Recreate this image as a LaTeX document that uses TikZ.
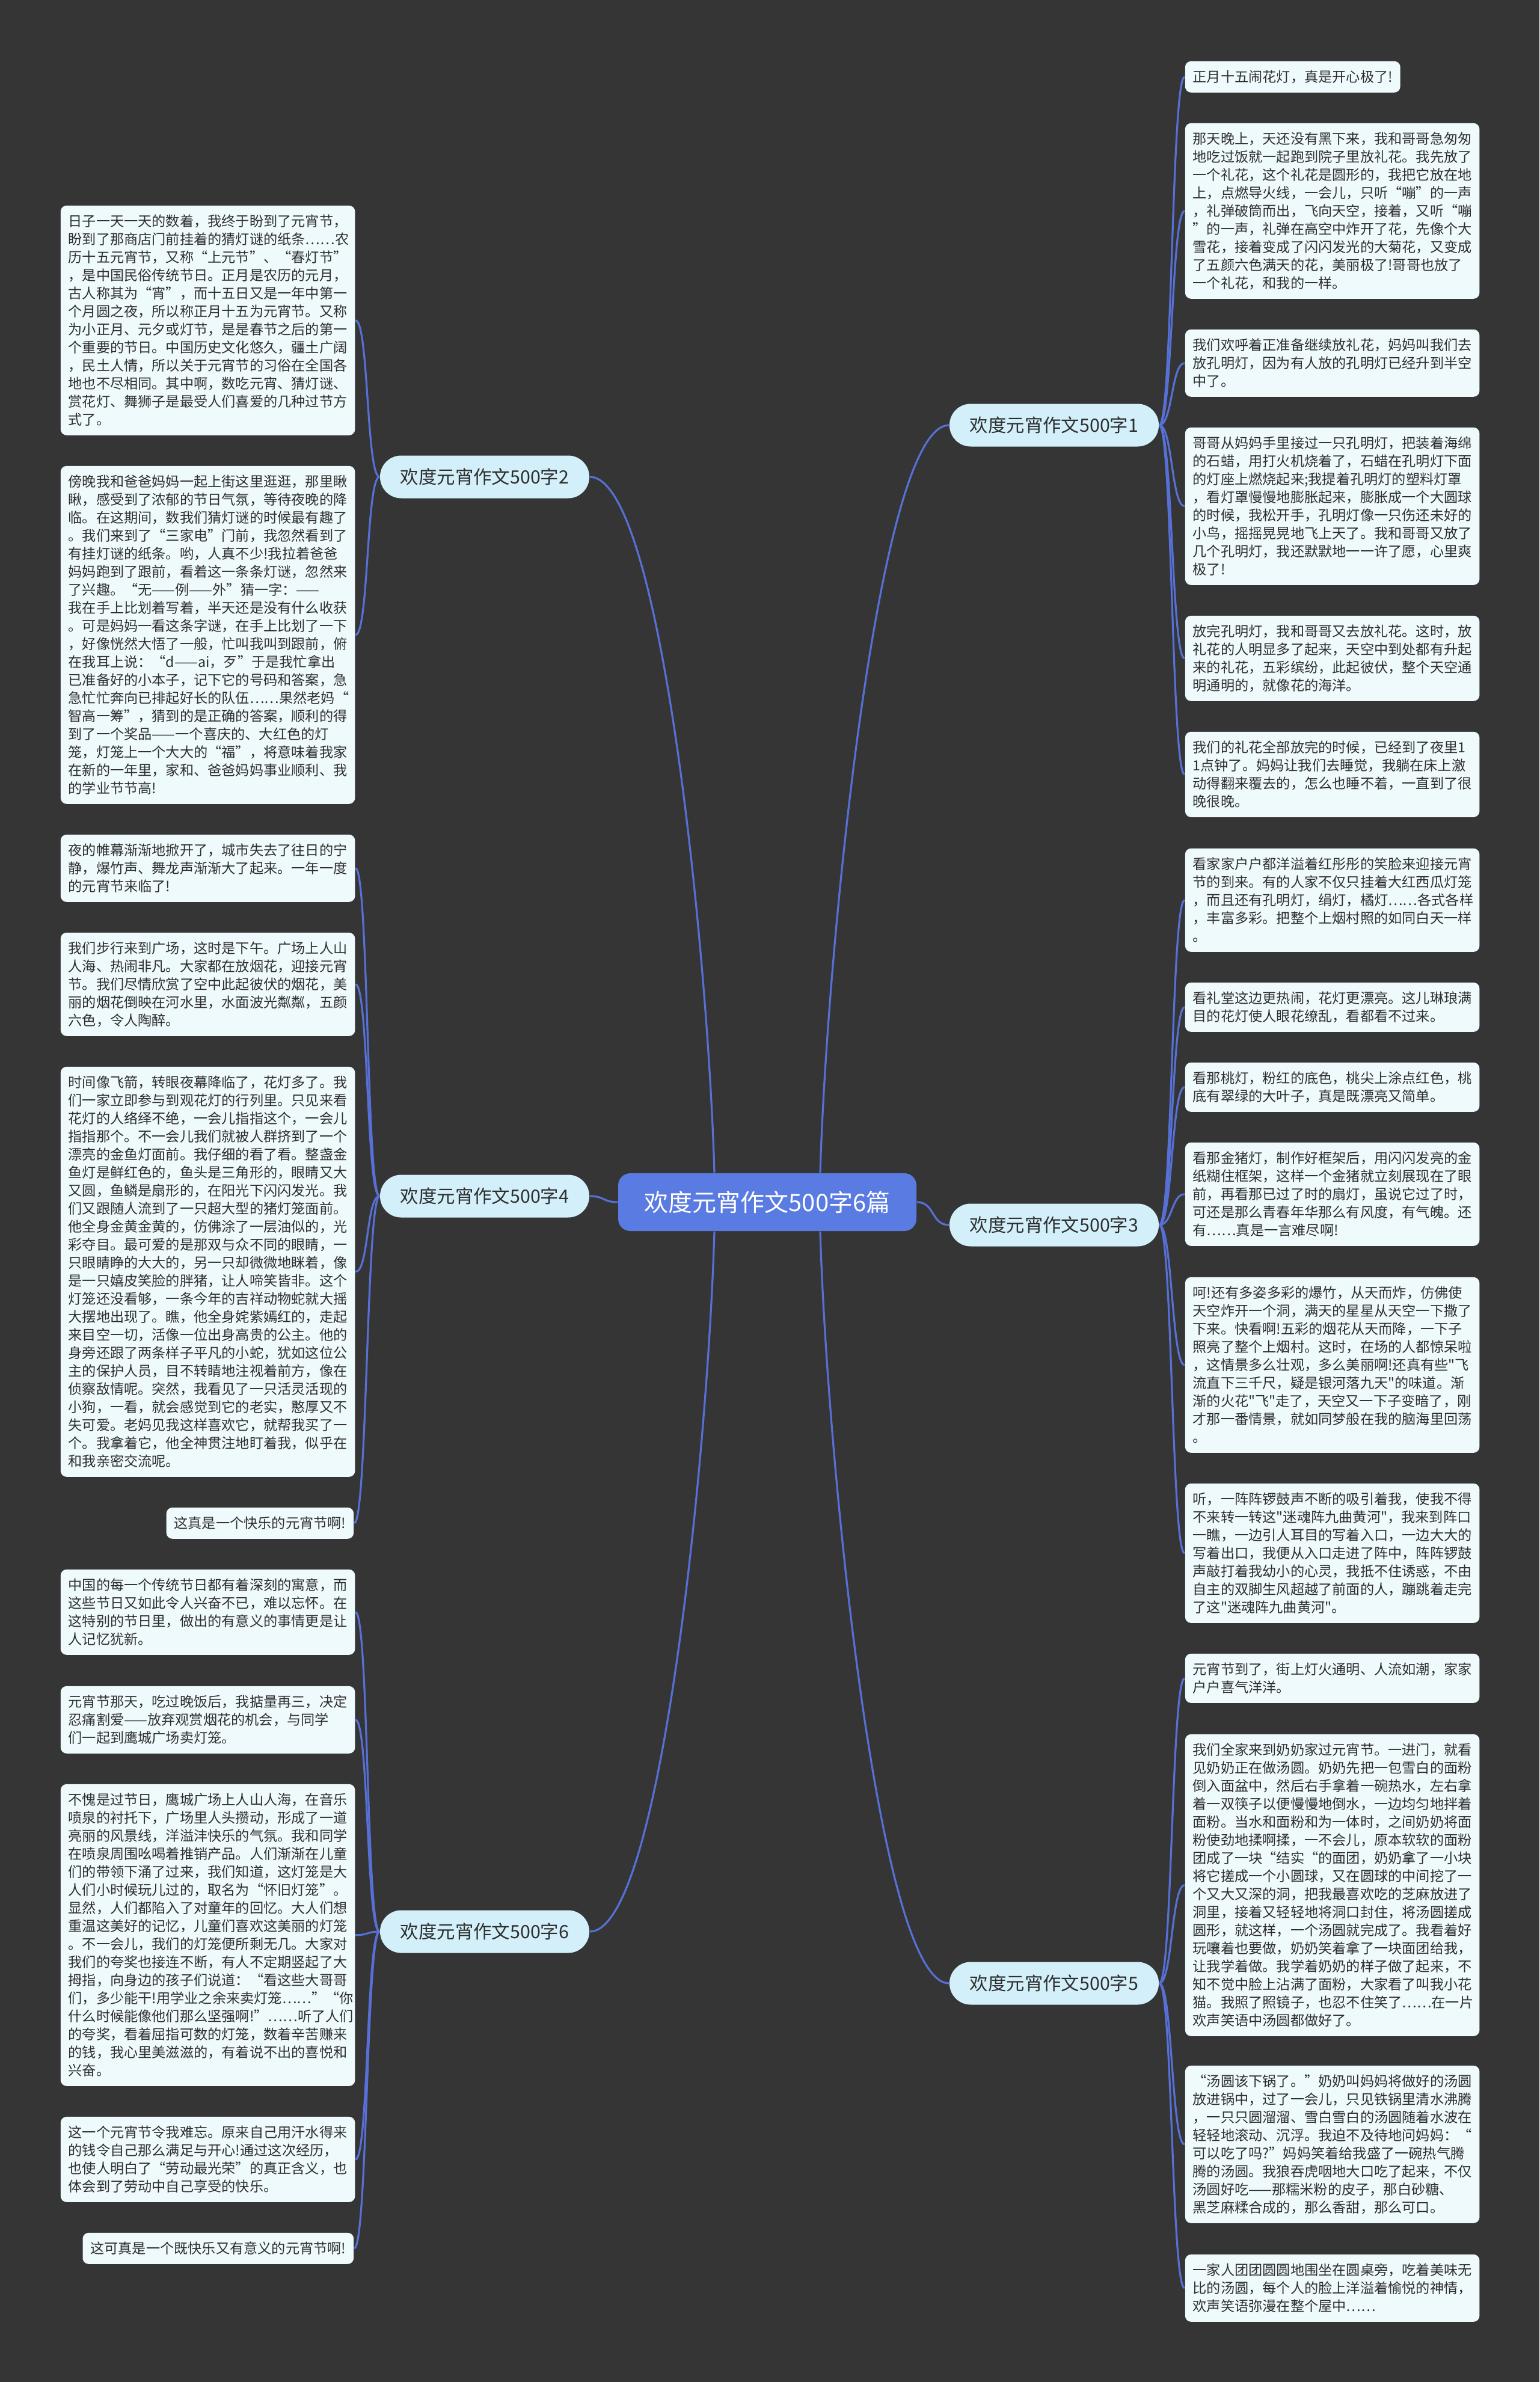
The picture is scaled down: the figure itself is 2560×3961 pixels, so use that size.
\documentclass[tikz,border=0pt]{standalone}
\usepackage{fontspec}
\setmainfont{Noto Sans CJK SC}[Ligatures=TeXOff]
\definecolor{bgdark}{HTML}{353535}
\definecolor{boxfill}{HTML}{EFFAFD}
\definecolor{branchfill}{HTML}{D3F0FA}
\definecolor{hubblue}{HTML}{5A7BE2}
\definecolor{linkblue}{HTML}{5670D6}
\definecolor{inkdark}{HTML}{2E2E2E}

\begin{document}
\begin{tikzpicture}[x=0.25pt, y=-0.25pt,
  leaf/.style={fill=boxfill, text=inkdark, rounded corners=2.5pt, inner xsep=3.2pt, inner ysep=2pt, text width=116pt, align=left, font=\fontsize{5.8pt}{7.5pt}\selectfont, minimum height=7.5pt*#1+5.5pt, anchor=north west},
  shortleaf/.style={fill=boxfill, text=inkdark, rounded corners=2.5pt, inner xsep=3.2pt, inner ysep=2pt, font=\fontsize{5.8pt}{7.5pt}\selectfont, minimum height=13pt},
  branch/.style={fill=branchfill, text=inkdark, rounded corners=8.8pt, minimum width=87pt, minimum height=17.75pt, inner sep=0pt, font=\fontsize{7.6pt}{9pt}\selectfont},
  hub/.style={fill=hubblue, text=white, rounded corners=5pt, minimum width=124pt, minimum height=24pt, inner sep=0pt, font=\fontsize{10pt}{12pt}\selectfont},
  link/.style={draw=linkblue, line width=0.8pt}]
\fill[bgdark] (0,0) rectangle (2560,3961);

% centre and branches
\node[hub] (c) at (1276,1999) {欢度元宵作文500字6篇};
\node[branch] (b1) at (1753,707) {欢度元宵作文500字1};
\node[branch] (b2) at (806,793) {欢度元宵作文500字2};
\node[branch] (b3) at (1753,2037) {欢度元宵作文500字3};
\node[branch] (b4) at (806,1989) {欢度元宵作文500字4};
\node[branch] (b5) at (1753,3298) {欢度元宵作文500字5};
\node[branch] (b6) at (806,3212) {欢度元宵作文500字6};

% left column
\node[leaf=12] (l1) at (100,341) {日子一天一天的数着，我终于盼到了元宵节，\\盼到了那商店门前挂着的猜灯谜的纸条……农\\历十五元宵节，又称“上元节”、“春灯节”\\，是中国民俗传统节日。正月是农历的元月，\\古人称其为“宵”，而十五日又是一年中第一\\个月圆之夜，所以称正月十五为元宵节。又称\\为小正月、元夕或灯节，是是春节之后的第一\\个重要的节日。中国历史文化悠久，疆土广阔\\，民土人情，所以关于元宵节的习俗在全国各\\地也不尽相同。其中啊，数吃元宵、猜灯谜、\\赏花灯、舞狮子是最受人们喜爱的几种过节方\\式了。};
\node[leaf=18] (l2) at (100,774) {傍晚我和爸爸妈妈一起上街这里逛逛，那里瞅\\瞅，感受到了浓郁的节日气氛，等待夜晚的降\\临。在这期间，数我们猜灯谜的时候最有趣了\\。我们来到了“三家电”门前，我忽然看到了\\有挂灯谜的纸条。哟，人真不少!我拉着爸爸\\妈妈跑到了跟前，看着这一条条灯谜，忽然来\\了兴趣。“无——例——外”猜一字：——\\我在手上比划着写着，半天还是没有什么收获\\。可是妈妈一看这条字谜，在手上比划了一下\\，好像恍然大悟了一般，忙叫我叫到跟前，俯\\在我耳上说：“d——ai，歹”于是我忙拿出\\已准备好的小本子，记下它的号码和答案，急\\急忙忙奔向已排起好长的队伍……果然老妈“\\智高一筹”，猜到的是正确的答案，顺利的得\\到了一个奖品——一个喜庆的、大红色的灯\\笼，灯笼上一个大大的“福”，将意味着我家\\在新的一年里，家和、爸爸妈妈事业顺利、我\\的学业节节高!};
\node[leaf=3] (l3) at (100,1387) {夜的帷幕渐渐地掀开了，城市失去了往日的宁\\静，爆竹声、舞龙声渐渐大了起来。一年一度\\的元宵节来临了!};
\node[leaf=5] (l4) at (100,1550) {我们步行来到广场，这时是下午。广场上人山\\人海、热闹非凡。大家都在放烟花，迎接元宵\\节。我们尽情欣赏了空中此起彼伏的烟花，美\\丽的烟花倒映在河水里，水面波光粼粼，五颜\\六色，令人陶醉。};
\node[leaf=22] (l5) at (100,1773) {时间像飞箭，转眼夜幕降临了，花灯多了。我\\们一家立即参与到观花灯的行列里。只见来看\\花灯的人络绎不绝，一会儿指指这个，一会儿\\指指那个。不一会儿我们就被人群挤到了一个\\漂亮的金鱼灯面前。我仔细的看了看。整盏金\\鱼灯是鲜红色的，鱼头是三角形的，眼睛又大\\又圆，鱼鳞是扇形的，在阳光下闪闪发光。我\\们又跟随人流到了一只超大型的猪灯笼面前。\\他全身金黄金黄的，仿佛涂了一层油似的，光\\彩夺目。最可爱的是那双与众不同的眼睛，一\\只眼睛睁的大大的，另一只却微微地眯着，像\\是一只嬉皮笑脸的胖猪，让人啼笑皆非。这个\\灯笼还没看够，一条今年的吉祥动物蛇就大摇\\大摆地出现了。瞧，他全身姹紫嫣红的，走起\\来目空一切，活像一位出身高贵的公主。他的\\身旁还跟了两条样子平凡的小蛇，犹如这位公\\主的保护人员，目不转睛地注视着前方，像在\\侦察敌情呢。突然，我看见了一只活灵活现的\\小狗，一看，就会感觉到它的老实，憨厚又不\\失可爱。老妈见我这样喜欢它，就帮我买了一\\个。我拿着它，他全神贯注地盯着我，似乎在\\和我亲密交流呢。};
\node[shortleaf, anchor=north east] (l6) at (589,2506) {这真是一个快乐的元宵节啊!};
\node[leaf=4] (l7) at (100,2609) {中国的每一个传统节日都有着深刻的寓意，而\\这些节日又如此令人兴奋不已，难以忘怀。在\\这特别的节日里，做出的有意义的事情更是让\\人记忆犹新。};
\node[leaf=3] (l8) at (100,2803) {元宵节那天，吃过晚饭后，我掂量再三，决定\\忍痛割爱——放弃观赏烟花的机会，与同学\\们一起到鹰城广场卖灯笼。};
\node[leaf=16] (l9) at (100,2966) {不愧是过节日，鹰城广场上人山人海，在音乐\\喷泉的衬托下，广场里人头攒动，形成了一道\\亮丽的风景线，洋溢沣快乐的气氛。我和同学\\在喷泉周围吆喝着推销产品。人们渐渐在儿童\\们的带领下涌了过来，我们知道，这灯笼是大\\人们小时候玩儿过的，取名为“怀旧灯笼”。\\显然，人们都陷入了对童年的回忆。大人们想\\重温这美好的记忆，儿童们喜欢这美丽的灯笼\\。不一会儿，我们的灯笼便所剩无几。大家对\\我们的夸奖也接连不断，有人不定期竖起了大\\拇指，向身边的孩子们说道：“看这些大哥哥\\们，多少能干!用学业之余来卖灯笼……”“你\\什么时候能像他们那么坚强啊!”……听了人们\\的夸奖，看着屈指可数的灯笼，数着辛苦赚来\\的钱，我心里美滋滋的，有着说不出的喜悦和\\兴奋。};
\node[leaf=4] (l10) at (100,3519) {这一个元宵节令我难忘。原来自己用汗水得来\\的钱令自己那么满足与开心!通过这次经历，\\也使人明白了“劳动最光荣”的真正含义，也\\体会到了劳动中自己享受的快乐。};
\node[shortleaf, anchor=north east] (l11) at (589,3712) {这可真是一个既快乐又有意义的元宵节啊!};

% right column
\node[shortleaf, anchor=north west] (r1) at (1970,101) {正月十五闹花灯，真是开心极了!};
\node[leaf=9] (r2) at (1970,204) {那天晚上，天还没有黑下来，我和哥哥急匆匆\\地吃过饭就一起跑到院子里放礼花。我先放了\\一个礼花，这个礼花是圆形的，我把它放在地\\上，点燃导火线，一会儿，只听“嘣”的一声\\，礼弹破筒而出，飞向天空，接着，又听“嘣\\”的一声，礼弹在高空中炸开了花，先像个大\\雪花，接着变成了闪闪发光的大菊花，又变成\\了五颜六色满天的花，美丽极了!哥哥也放了\\一个礼花，和我的一样。};
\node[leaf=3] (r3) at (1970,547) {我们欢呼着正准备继续放礼花，妈妈叫我们去\\放孔明灯，因为有人放的孔明灯已经升到半空\\中了。};
\node[leaf=8] (r4) at (1970,710) {哥哥从妈妈手里接过一只孔明灯，把装着海绵\\的石蜡，用打火机烧着了，石蜡在孔明灯下面\\的灯座上燃烧起来;我提着孔明灯的塑料灯罩\\，看灯罩慢慢地膨胀起来，膨胀成一个大圆球\\的时候，我松开手，孔明灯像一只伤还未好的\\小鸟，摇摇晃晃地飞上天了。我和哥哥又放了\\几个孔明灯，我还默默地一一许了愿，心里爽\\极了!};
\node[leaf=4] (r5) at (1970,1023) {放完孔明灯，我和哥哥又去放礼花。这时，放\\礼花的人明显多了起来，天空中到处都有升起\\来的礼花，五彩缤纷，此起彼伏，整个天空通\\明通明的，就像花的海洋。};
\node[leaf=4] (r6) at (1970,1216) {我们的礼花全部放完的时候，已经到了夜里1\\1点钟了。妈妈让我们去睡觉，我躺在床上激\\动得翻来覆去的，怎么也睡不着，一直到了很\\晚很晚。};
\node[leaf=5] (r7) at (1970,1410) {看家家户户都洋溢着红彤彤的笑脸来迎接元宵\\节的到来。有的人家不仅只挂着大红西瓜灯笼\\，而且还有孔明灯，绢灯，橘灯……各式各样\\，丰富多彩。把整个上烟村照的如同白天一样\\。};
\node[leaf=2] (r8) at (1970,1633) {看礼堂这边更热闹，花灯更漂亮。这儿琳琅满\\目的花灯使人眼花缭乱，看都看不过来。};
\node[leaf=2] (r9) at (1970,1766) {看那桃灯，粉红的底色，桃尖上涂点红色，桃\\底有翠绿的大叶子，真是既漂亮又简单。};
\node[leaf=5] (r10) at (1970,1899) {看那金猪灯，制作好框架后，用闪闪发亮的金\\纸糊住框架，这样一个金猪就立刻展现在了眼\\前，再看那已过了时的扇灯，虽说它过了时，\\可还是那么青春年华那么有风度，有气魄。还\\有……真是一言难尽啊!};
\node[leaf=9] (r11) at (1970,2123) {呵!还有多姿多彩的爆竹，从天而炸，仿佛使\\天空炸开一个洞，满天的星星从天空一下撒了\\下来。快看啊!五彩的烟花从天而降，一下子\\照亮了整个上烟村。这时，在场的人都惊呆啦\\，这情景多么壮观，多么美丽啊!还真有些"飞\\流直下三千尺，疑是银河落九天"的味道。渐\\渐的火花"飞"走了，天空又一下子变暗了，刚\\才那一番情景，就如同梦般在我的脑海里回荡\\。};
\node[leaf=7] (r12) at (1970,2466) {听，一阵阵锣鼓声不断的吸引着我，使我不得\\不来转一转这"迷魂阵九曲黄河"，我来到阵口\\一瞧，一边引人耳目的写着入口，一边大大的\\写着出口，我便从入口走进了阵中，阵阵锣鼓\\声敲打着我幼小的心灵，我抵不住诱惑，不由\\自主的双脚生风超越了前面的人，蹦跳着走完\\了这"迷魂阵九曲黄河"。};
\node[leaf=2] (r13) at (1970,2749) {元宵节到了，街上灯火通明、人流如潮，家家\\户户喜气洋洋。};
\node[leaf=16] (r14) at (1970,2883) {我们全家来到奶奶家过元宵节。一进门，就看\\见奶奶正在做汤圆。奶奶先把一包雪白的面粉\\倒入面盆中，然后右手拿着一碗热水，左右拿\\着一双筷子以便慢慢地倒水，一边均匀地拌着\\面粉。当水和面粉和为一体时，之间奶奶将面\\粉使劲地揉啊揉，一不会儿，原本软软的面粉\\团成了一块“结实“的面团，奶奶拿了一小块\\将它搓成一个小圆球，又在圆球的中间挖了一\\个又大又深的洞，把我最喜欢吃的芝麻放进了\\洞里，接着又轻轻地将洞口封住，将汤圆搓成\\圆形，就这样，一个汤圆就完成了。我看着好\\玩嚷着也要做，奶奶笑着拿了一块面团给我，\\让我学着做。我学着奶奶的样子做了起来，不\\知不觉中脸上沾满了面粉，大家看了叫我小花\\猫。我照了照镜子，也忍不住笑了……在一片\\欢声笑语中汤圆都做好了。};
\node[leaf=8] (r15) at (1970,3434) {“汤圆该下锅了。”奶奶叫妈妈将做好的汤圆\\放进锅中，过了一会儿，只见铁锅里清水沸腾\\，一只只圆溜溜、雪白雪白的汤圆随着水波在\\轻轻地滚动、沉浮。我迫不及待地问妈妈：“\\可以吃了吗?”妈妈笑着给我盛了一碗热气腾\\腾的汤圆。我狼吞虎咽地大口吃了起来，不仅\\汤圆好吃——那糯米粉的皮子，那白砂糖、\\黑芝麻糅合成的，那么香甜，那么可口。};
\node[leaf=3] (r16) at (1970,3748) {一家人团团圆圆地围坐在圆桌旁，吃着美味无\\比的汤圆，每个人的脸上洋溢着愉悦的神情，\\欢声笑语弥漫在整个屋中……};

% centre to branches
\draw[link] ([xshift=22pt]c.north) .. controls +(10,-350) and +(-120,0) .. (b1.west);
\draw[link] ([xshift=-22pt]c.north) .. controls +(-10,-350) and +(120,0) .. (b2.east);
\draw[link] (c.east) .. controls +(30,0) and +(-30,0) .. (b3.west);
\draw[link] (c.west) .. controls +(-25,0) and +(25,0) .. (b4.east);
\draw[link] ([xshift=22pt]c.south) .. controls +(10,350) and +(-120,0) .. (b5.west);
\draw[link] ([xshift=-22pt]c.south) .. controls +(-10,350) and +(120,0) .. (b6.east);

% branches to leaves
\draw[link] (b1.east) .. controls +(22,0) and +(-22,0) .. (r1.west);
\draw[link] (b1.east) .. controls +(22,0) and +(-22,0) .. (r2.west);
\draw[link] (b1.east) .. controls +(22,0) and +(-22,0) .. (r3.west);
\draw[link] (b1.east) .. controls +(22,0) and +(-22,0) .. (r4.west);
\draw[link] (b1.east) .. controls +(22,0) and +(-22,0) .. (r5.west);
\draw[link] (b1.east) .. controls +(22,0) and +(-22,0) .. (r6.west);
\draw[link] (b3.east) .. controls +(22,0) and +(-22,0) .. (r7.west);
\draw[link] (b3.east) .. controls +(22,0) and +(-22,0) .. (r8.west);
\draw[link] (b3.east) .. controls +(22,0) and +(-22,0) .. (r9.west);
\draw[link] (b3.east) .. controls +(22,0) and +(-22,0) .. (r10.west);
\draw[link] (b3.east) .. controls +(22,0) and +(-22,0) .. (r11.west);
\draw[link] (b3.east) .. controls +(22,0) and +(-22,0) .. (r12.west);
\draw[link] (b5.east) .. controls +(22,0) and +(-22,0) .. (r13.west);
\draw[link] (b5.east) .. controls +(22,0) and +(-22,0) .. (r14.west);
\draw[link] (b5.east) .. controls +(22,0) and +(-22,0) .. (r15.west);
\draw[link] (b5.east) .. controls +(22,0) and +(-22,0) .. (r16.west);
\draw[link] (b2.west) .. controls +(-22,0) and +(22,0) .. (l1.east);
\draw[link] (b2.west) .. controls +(-22,0) and +(22,0) .. (l2.east);
\draw[link] (b4.west) .. controls +(-22,0) and +(22,0) .. (l3.east);
\draw[link] (b4.west) .. controls +(-22,0) and +(22,0) .. (l4.east);
\draw[link] (b4.west) .. controls +(-22,0) and +(22,0) .. (l5.east);
\draw[link] (b4.west) .. controls +(-22,0) and +(22,0) .. (l6.east);
\draw[link] (b6.west) .. controls +(-22,0) and +(22,0) .. (l7.east);
\draw[link] (b6.west) .. controls +(-22,0) and +(22,0) .. (l8.east);
\draw[link] (b6.west) .. controls +(-22,0) and +(22,0) .. (l9.east);
\draw[link] (b6.west) .. controls +(-22,0) and +(22,0) .. (l10.east);
\draw[link] (b6.west) .. controls +(-22,0) and +(22,0) .. (l11.east);
\end{tikzpicture}
\end{document}
